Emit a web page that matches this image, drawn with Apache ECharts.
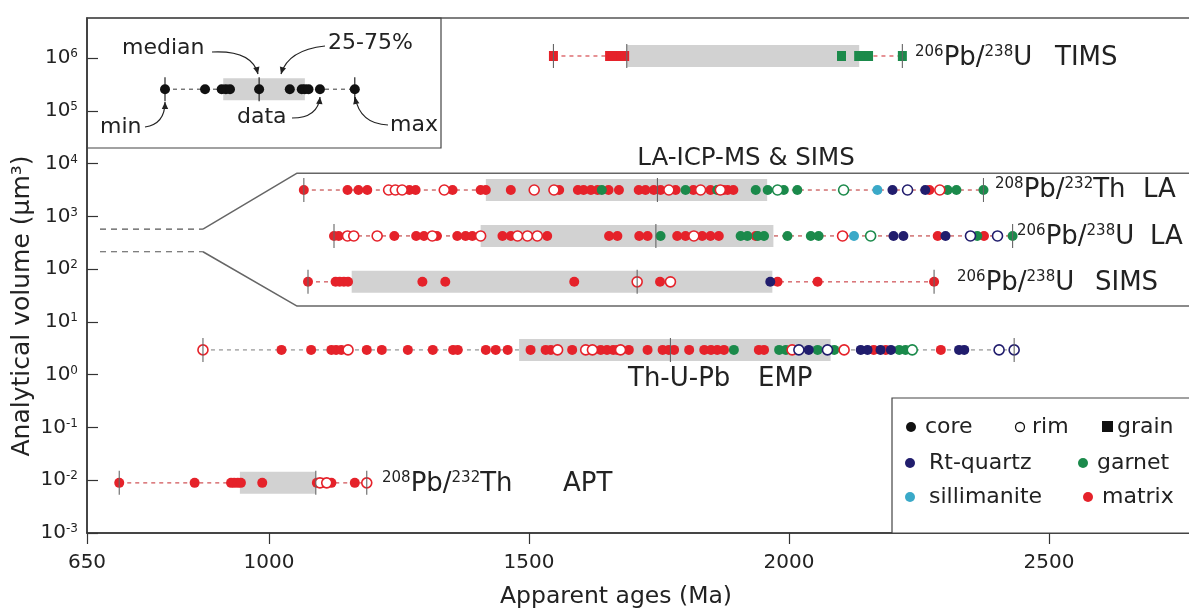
<!DOCTYPE html>
<html><head><meta charset="utf-8">
<script src="https://cdn.jsdelivr.net/npm/echarts@6/dist/echarts.min.js"></script>
<style>html,body{margin:0;padding:0;background:#fff}#c{width:1189px;height:612px}</style>
</head><body><div id="c"></div>
<script>
// ================= DATA =================
const xTicks = [650, 1000, 1500, 2000, 2500];
const yTicks = [-3, -2, -1, 0, 1, 2, 3, 4, 5, 6];           // log10 (µm³)
const rowKeys   = ['TIMS', 'LA_Th', 'LA_U', 'SIMS', 'EMP', 'APT', 'KEY'];
const rowVolume = [6.04, 3.50, 2.63, 1.76, 0.47, -2.05, 5.41]; // log10 volume (LA/SIMS rows drawn in expanded panel)
const rowMin = [1547, 1067, 1125, 1075, 873, 712, 800];
const rowQ1  = [1688, 1417, 1407, 1159, 1481, 944, 912];
const rowMed = [1688, 1747, 1744, 1708, 1772, 1090, 981];
const rowQ3  = [2135, 1958, 1970, 1968, 2080, 1090, 1069];
const rowMax = [2218, 2374, 2430, 2279, 2433, 1188, 1165];

// points: [age (Ma), host (m matrix, g garnet, r Rt-quartz, s sillimanite, k key), kind (c core, r rim, g grain)]
const TIMS_PTS = [[1547,'m','g'],[1655,'m','g'],[1662,'m','g'],[1669,'m','g'],[1677,'m','g'],[1684,'m','g'],
  [2101,'g','g'],[2134,'g','g'],[2144,'g','g'],[2153,'g','g'],[2218,'g','g']];
const LA_TH_PTS = [[1067,'m','c'],[1151,'m','c'],[1172,'m','c'],[1189,'m','c'],
  [1230,'m','r'],[1243,'m','r'],[1256,'m','r'],[1270,'m','c'],[1282,'m','c'],[1337,'m','r'],[1353,'m','c'],
  [1407,'m','c'],[1417,'m','c'],[1465,'m','c'],[1510,'m','r'],[1548,'m','r'],[1558,'m','c'],
  [1594,'m','c'],[1605,'m','c'],[1619,'m','c'],[1632,'m','c'],[1640,'g','c'],[1653,'m','c'],[1673,'m','c'],
  [1711,'m','c'],[1724,'m','c'],[1740,'m','c'],[1753,'m','c'],[1769,'m','r'],[1782,'m','c'],[1801,'g','c'],
  [1816,'m','c'],[1830,'m','r'],[1849,'m','c'],[1862,'g','c'],[1874,'m','c'],
  [1868,'m','r'],[1882,'m','c'],[1893,'m','c'],[1936,'g','c'],[1959,'g','c'],[1978,'g','r'],[1990,'g','c'],[2016,'g','c'],
  [2105,'g','r'],[2170,'s','c'],[2199,'r','c'],[2228,'r','r'],[2262,'r','c'],[2270,'m','c'],[2290,'m','r'],
  [2305,'g','c'],[2322,'g','c'],[2374,'g','c']];
const LA_U_PTS = [[1125,'m','c'],[1134,'m','c'],[1151,'m','r'],[1163,'m','r'],[1208,'m','r'],[1241,'m','c'],
  [1283,'m','c'],[1298,'m','c'],[1314,'m','r'],[1323,'m','c'],[1362,'m','c'],[1378,'m','c'],[1391,'m','c'],[1407,'m','r'],
  [1449,'m','c'],[1465,'m','c'],[1478,'m','r'],[1497,'m','r'],[1516,'m','r'],[1535,'m','c'],[1654,'m','c'],[1670,'m','c'],
  [1712,'m','c'],[1728,'m','c'],[1753,'g','c'],[1785,'m','c'],[1801,'m','c'],[1817,'m','r'],[1833,'m','c'],[1849,'m','c'],[1865,'m','c'],
  [1907,'g','c'],[1920,'g','c'],[1936,'m','c'],[1940,'g','c'],[1952,'g','c'],[1997,'g','c'],[2042,'g','c'],[2057,'g','c'],
  [2103,'m','r'],[2125,'s','c'],[2157,'g','r'],[2201,'r','c'],[2220,'r','c'],[2286,'m','c'],[2301,'r','c'],
  [2349,'r','r'],[2362,'g','c'],[2375,'m','c'],[2401,'r','r'],[2430,'g','c']];
const SIMS_PTS = [[1075,'m','c'],[1128,'m','c'],[1136,'m','c'],[1144,'m','c'],[1152,'m','c'],[1295,'m','c'],[1339,'m','c'],
  [1587,'m','c'],[1708,'m','r'],[1752,'m','c'],[1772,'m','r'],[1964,'r','c'],[1978,'m','c'],[2055,'m','c'],[2279,'m','c']];
const EMP_PTS = [[873,'m','r'],[1024,'m','c'],[1081,'m','c'],[1120,'m','c'],[1129,'m','c'],[1139,'m','c'],[1152,'m','r'],
  [1188,'m','c'],[1217,'m','c'],[1267,'m','c'],[1315,'m','c'],[1354,'m','c'],[1363,'m','c'],[1417,'m','c'],[1436,'m','c'],[1459,'m','c'],
  [1503,'m','c'],[1532,'m','c'],[1542,'m','c'],[1555,'m','r'],[1583,'m','c'],[1609,'m','r'],[1622,'m','r'],
  [1638,'m','c'],[1650,'m','c'],[1662,'m','c'],[1670,'m','c'],[1676,'m','r'],[1692,'m','c'],
  [1728,'m','c'],[1757,'m','c'],[1769,'m','c'],[1779,'m','c'],[1808,'m','c'],[1837,'m','c'],[1850,'m','c'],[1862,'m','c'],[1875,'m','c'],
  [1894,'g','c'],[1942,'m','c'],[1952,'m','c'],[1981,'g','c'],[1994,'g','c'],[2006,'m','r'],[2019,'r','r'],[2038,'r','c'],
  [2055,'g','c'],[2074,'r','r'],[2087,'g','c'],[2106,'m','r'],[2138,'r','c'],[2151,'r','c'],[2163,'m','c'],[2176,'r','c'],
  [2186,'m','c'],[2196,'r','c'],[2212,'g','c'],[2224,'g','c'],[2237,'g','r'],[2292,'m','c'],[2327,'r','c'],[2337,'r','c'],
  [2404,'r','r'],[2433,'r','r']];
const APT_PTS = [[712,'m','c'],[857,'m','c'],[927,'m','c'],[933,'m','c'],[940,'m','c'],[946,'m','c'],[987,'m','c'],
  [1092,'m','c'],[1098,'m','r'],[1104,'m','c'],[1111,'m','r'],[1120,'m','c'],[1165,'m','c'],[1188,'m','r']];
const KEY_PTS = [[800,'k','c'],[877,'k','c'],[909,'k','c'],[917,'k','c'],[925,'k','c'],[981,'k','c'],
  [1040,'k','c'],[1063,'k','c'],[1069,'k','c'],[1076,'k','c'],[1098,'k','c'],[1165,'k','c']];
const rowPoints = [TIMS_PTS, LA_TH_PTS, LA_U_PTS, SIMS_PTS, EMP_PTS, APT_PTS, KEY_PTS];

// real LA/SIMS volume band (log10) and the expanded panel it opens into
const laBand = [2.33, 2.76];
const laPanel = [1.30, 3.82];
const laBandAges = [675, 873, 1054, 2800];

// ================= STYLE =================
const FONT = 'DejaVu Sans';
const TXT = '#222';
const COLORS = {m:'#e5222a', g:'#1b8a4b', r:'#211d6d', s:'#3aa9c8', k:'#111111'};
const HOST = {m:'matrix', g:'garnet', r:'Rt-quartz', s:'sillimanite', k:'key'};
const KIND = {c:'core', r:'rim', g:'grain'};
const rowLineColor = ['#d9575c','#c95a5a','#c95a5a','#d25a5e','#9a9a9a','#d25a5e','#666'];

const chart = echarts.init(document.getElementById('c'), null, {renderer:'canvas'});

const groups = {};
rowPoints.forEach((pts, i) => pts.forEach(([age, h, k]) => {
  const key = h + k;
  (groups[key] = groups[key] || []).push([age, rowVolume[i]]);
}));
const scatterSeries = Object.keys(groups).map(key => {
  const h = key[0], k = key[1], col = COLORS[h];
  return {
    type:'scatter', name: HOST[h] + ' ' + KIND[k], data: groups[key],
    symbol: k === 'g' ? 'rect' : 'circle',
    symbolSize: k === 'g' ? [9, 10] : 10,
    itemStyle: k === 'r' ? {color:'#fff', borderColor:col, borderWidth:1.6, opacity:1} : {color:col, opacity:1},
    z: k === 'r' ? 4 : 3, silent:true
  };
});

const whisker = {
  type:'custom', z:1, silent:true,
  data: rowKeys.map((k, i) => [rowMin[i], rowVolume[i], rowMax[i], i]),
  encode:{x:[0,2], y:1},
  renderItem:(p, api) => {
    const a = api.coord([api.value(0), api.value(1)]), b = api.coord([api.value(2), api.value(1)]);
    return {type:'line', shape:{x1:a[0], y1:a[1], x2:b[0], y2:b[1]},
      style:{stroke: rowLineColor[api.value(3)], lineWidth:1.3, lineDash:[4,4]}};
  }
};
const boxes = {
  type:'custom', z:2, silent:true,
  data: rowKeys.map((k, i) => [rowQ1[i], rowVolume[i], rowQ3[i]]),
  encode:{x:[0,2], y:1},
  renderItem:(p, api) => {
    const a = api.coord([api.value(0), api.value(1)]), b = api.coord([api.value(2), api.value(1)]);
    return {type:'rect', shape:{x:a[0], y:a[1]-11, width:Math.max(b[0]-a[0], 0), height:22},
      style:{fill:'#d2d2d2'}};
  }
};
const ticks = {
  type:'custom', z:5, silent:true,
  data: rowKeys.map((k, i) => [rowMin[i], rowMed[i], rowMax[i], rowVolume[i], i]),
  encode:{x:[0,2], y:3},
  renderItem:(p, api) => {
    const y = api.value(3);
    const col = api.value(4) === 6 ? '#111' : '#666';
    return {type:'group', children:[0,1,2].map(d => {
      const c = api.coord([api.value(d), y]);
      return {type:'line', shape:{x1:c[0], y1:c[1]-12, x2:c[0], y2:c[1]+12}, style:{stroke:col, lineWidth:1.1}};
    })};
  }
};
const bandLines = [
  {type:'line', silent:true, symbol:'none', z:1, lineStyle:{color:'#555', width:1.2, type:[6,5]},
   data:[[laBandAges[0], laBand[1]],[laBandAges[1], laBand[1]]]},
  {type:'line', silent:true, symbol:'none', z:1, lineStyle:{color:'#555', width:1.2, type:[6,5]},
   data:[[laBandAges[0], laBand[0]],[laBandAges[1], laBand[0]]]},
  {type:'line', silent:true, symbol:'none', z:1, lineStyle:{color:'#666', width:1.5},
   data:[[laBandAges[1], laBand[1]],[laBandAges[2], laPanel[1]],[laBandAges[3], laPanel[1]]]},
  {type:'line', silent:true, symbol:'none', z:1, lineStyle:{color:'#666', width:1.5},
   data:[[laBandAges[1], laBand[0]],[laBandAges[2], laPanel[0]],[laBandAges[3], laPanel[0]]]}
];

const big = 26, sup = 15;
const richLbl = {
  b:{fontSize:big, fontFamily:FONT, fill:TXT, color:TXT},
  s:{fontSize:sup, fontFamily:FONT, fill:TXT, color:TXT, verticalAlign:'top'}
};
function label(x, y, text) {
  return {type:'text', x:x, y:y, silent:true,
    style:{text:text, fontSize:big, fontFamily:FONT, fill:TXT, verticalAlign:'middle', align:'left', rich:richLbl}};
}
function plain(x, y, text, size, align) {
  return {type:'text', x:x, y:y, silent:true,
    style:{text:text, fontSize:size, fontFamily:FONT, fill:TXT, verticalAlign:'middle', align:align || 'left'}};
}
function arrow(x1, y1, cx, cy, x2, y2) {
  const ang = Math.atan2(y2 - cy, x2 - cx);
  const L = 7, W = 3.2;
  const p1 = [x2 - L*Math.cos(ang) + W*Math.sin(ang), y2 - L*Math.sin(ang) - W*Math.cos(ang)];
  const p2 = [x2 - L*Math.cos(ang) - W*Math.sin(ang), y2 - L*Math.sin(ang) + W*Math.cos(ang)];
  return [
    {type:'bezierCurve', silent:true, shape:{x1:x1, y1:y1, cpx1:cx, cpy1:cy, x2:x2, y2:y2}, style:{stroke:'#222', lineWidth:1.2, fill:null}},
    {type:'polygon', silent:true, shape:{points:[[x2,y2], p1, p2]}, style:{fill:'#222'}}
  ];
}
const LG = 22;
const legendItems = [
  {type:'rect', silent:true, shape:{x:892, y:398, width:320, height:135}, style:{fill:'#fff', stroke:'#444', lineWidth:1.2}, z:10},
  {type:'circle', silent:true, shape:{cx:911, cy:427, r:5}, style:{fill:'#111'}},
  plain(925, 427, 'core', LG),
  {type:'circle', silent:true, shape:{cx:1020, cy:427, r:4.5}, style:{fill:'#fff', stroke:'#111', lineWidth:1.3}},
  plain(1032, 427, 'rim', LG),
  {type:'rect', silent:true, shape:{x:1102, y:421, width:11, height:11}, style:{fill:'#111'}},
  plain(1117, 427, 'grain', LG),
  {type:'circle', silent:true, shape:{cx:910, cy:463, r:5}, style:{fill:COLORS.r}},
  plain(929, 463, 'Rt-quartz', LG),
  {type:'circle', silent:true, shape:{cx:1083, cy:463, r:5}, style:{fill:COLORS.g}},
  plain(1097, 463, 'garnet', LG),
  {type:'circle', silent:true, shape:{cx:910, cy:497, r:5}, style:{fill:COLORS.s}},
  plain(929, 497, 'sillimanite', LG),
  {type:'circle', silent:true, shape:{cx:1088, cy:497, r:5}, style:{fill:COLORS.m}},
  plain(1102, 497, 'matrix', LG)
].map(e => Object.assign({z:11}, e));

const graphics = [
  {type:'rect', silent:true, shape:{x:87, y:18, width:354, height:130}, style:{fill:'none', stroke:'#444', lineWidth:1.2}, z:8},
  plain(122, 48, 'median', 22),
  plain(328, 43, '25-75%', 22),
  plain(100, 127, 'min', 22),
  plain(237, 117, 'data', 22),
  plain(390, 125, 'max', 22),
  ...arrow(212, 52, 252, 50, 258, 74),
  ...arrow(325, 46, 288, 50, 281, 74),
  ...arrow(145, 127, 165, 124, 165, 102),
  ...arrow(292, 118, 318, 118, 320, 97),
  ...arrow(388, 125, 360, 124, 355, 97),
  label(915, 58, '{s|206}{b|Pb/}{s|238}{b|U}'),
  plain(1055, 58, 'TIMS', big),
  label(995, 190, '{s|208}{b|Pb/}{s|232}{b|Th}'),
  plain(1143, 190, 'LA', big),
  label(1017, 237, '{s|206}{b|Pb/}{s|238}{b|U}'),
  plain(1150, 237, 'LA', big),
  label(957, 283, '{s|206}{b|Pb/}{s|238}{b|U}'),
  plain(1095, 283, 'SIMS', big),
  plain(628, 379, 'Th-U-Pb', big),
  plain(758, 379, 'EMP', big),
  label(382, 484, '{s|208}{b|Pb/}{s|232}{b|Th}'),
  plain(563, 484, 'APT', big),
  plain(746, 159, 'LA-ICP-MS & SIMS', 24.5, 'center'),
  {type:'text', silent:true, x:22, y:306, rotation:Math.PI/2,
   style:{text:'Analytical volume (μm³)', fontSize:25, fontFamily:FONT, fill:TXT, align:'center', verticalAlign:'middle'}},
  plain(616, 597, 'Apparent ages (Ma)', 23.5, 'center'),
  ...legendItems
];

chart.setOption({
  animation:false,
  backgroundColor:'#fff',
  grid:{left:87, top:18, right:-16, bottom:79, show:true, borderColor:'#555', borderWidth:1.5, containLabel:false, outerBoundsMode:'none'},
  xAxis:{type:'value', min:650, max:2800,
    axisLine:{onZero:false, lineStyle:{color:'#333', width:1.5}},
    axisTick:{show:true, length:11, lineStyle:{color:'#333', width:1.2}, customValues:xTicks},
    axisLabel:{customValues:xTicks, margin:20, color:TXT, fontSize:20, fontFamily:FONT, formatter: v => String(v)},
    splitLine:{show:false}},
  yAxis:{type:'value', min:-3, max:6.76,
    axisLine:{show:true, onZero:false, lineStyle:{color:'#333', width:1.5}},
    axisTick:{show:true, inside:true, length:11, lineStyle:{color:'#333', width:1.2}, customValues:yTicks},
    axisLabel:{customValues:yTicks, margin:9, color:TXT, fontSize:20, fontFamily:FONT,
      formatter: v => '10{s|' + v + '}',
      rich:{s:{fontSize:12, fontFamily:FONT, color:TXT, verticalAlign:'top'}}},
    splitLine:{show:false}},
  graphic: graphics,
  series:[...bandLines, whisker, boxes, ...scatterSeries, ticks]
});
</script></body></html>
